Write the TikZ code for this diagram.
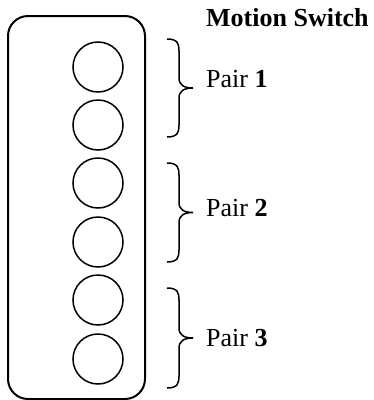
\documentclass[tikz,border=0pt]{standalone}
\usepackage{fontspec}
\setmainfont{Liberation Serif}
\usepackage{tikz}

\begin{document}
\begin{tikzpicture}[x=1pt,y=-1pt,
  hole/.style={draw,circle,line width=1.5pt,minimum size=50pt,inner sep=0pt},
  pairbrace/.style={line width=1.5pt},
  lbl/.style={anchor=base west,inner sep=0pt,font=\fontsize{26}{30}\selectfont}]
\useasboundingbox (0,0) rectangle (374,400);
\draw[line width=2pt,rounded corners=20pt] (8,16) rectangle (145,399);
\foreach \y [count=\i] in {67,125,183,242,300,359}{
  \node[hole] (c\i) at (98,\y) {};
}
% curly braces, one per pair of holes
\foreach \a/\b/\n/\ty in {39/137/1/87,163/262/2/216,288/388/3/346}{
  \pgfmathsetmacro\m{(\a+\b)/2}
  \coordinate (top\n) at (167,\a);
  \coordinate (bot\n) at (167,\b);
  \coordinate (tip\n) at (193,\m);
  \draw[pairbrace] (top\n) .. controls (178,\a) and (179,\a+5) .. (179,\a+12)
    -- (179,\m-10) .. controls (179,\m-3) and (184,\m) .. (tip\n)
    .. controls (184,\m) and (179,\m+3) .. (179,\m+10)
    -- (179,\b-12) .. controls (179,\b-5) and (178,\b) .. (bot\n);
  \node[lbl] (pair\n) at (206,\ty) {Pair \textbf{\n}};
}
\node[lbl,font=\fontsize{26}{30}\selectfont\bfseries] (title) at (206,26) {Motion Switch};
\end{tikzpicture}
\end{document}
